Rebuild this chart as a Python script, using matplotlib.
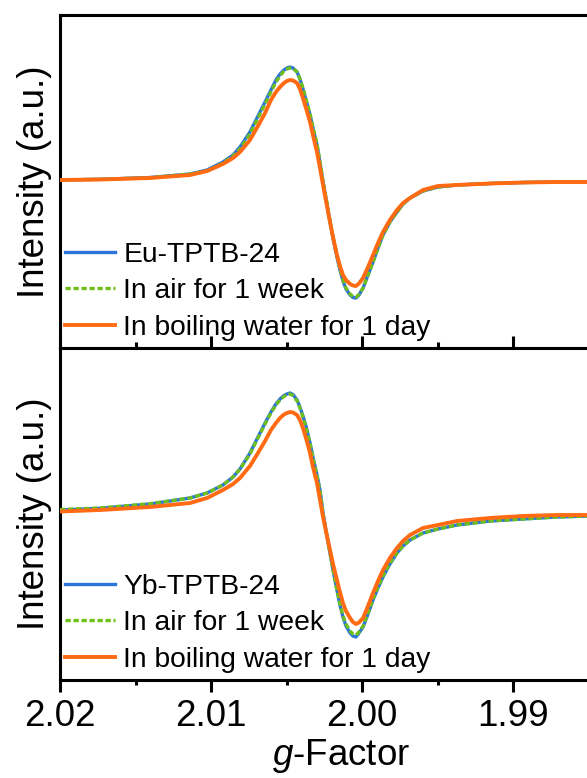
import matplotlib
matplotlib.use("Agg")
import matplotlib.pyplot as plt
from matplotlib.ticker import MultipleLocator

plt.rcParams["font.family"] = ["Liberation Sans", "DejaVu Sans"]
plt.rcParams["mathtext.fontset"] = "custom"
plt.rcParams["mathtext.rm"] = "Liberation Sans"
plt.rcParams["mathtext.it"] = "Liberation Sans:italic"

# g-factor sampling shared by both spectra
g_factor = [2.02000, 2.01735, 2.01404, 2.01139, 2.01026, 2.00921, 2.00854, 2.00808, 2.00742, 2.00689,
            2.00642, 2.00603, 2.00570, 2.00543, 2.00517, 2.00497, 2.00477, 2.00457, 2.00430, 2.00411,
            2.00391, 2.00371, 2.00344, 2.00325, 2.00298, 2.00278, 2.00258, 2.00232, 2.00212, 2.00192,
            2.00166, 2.00146, 2.00126, 2.00106, 2.00079, 2.00060, 2.00040, 2.00020, 1.99993, 1.99960,
            1.99927, 1.99894, 1.99861, 1.99815, 1.99768, 1.99728, 1.99682, 1.99596, 1.99497, 1.99371,
            1.99152, 1.98934, 1.98709, 1.98490]

# ---- Eu-TPTB-24 (top panel) ----
eu_fresh = [0, 0.7, 2.5, 6, 10, 18, 25, 33, 48, 64,
            78, 90, 100, 106, 110, 112, 113, 112, 108, 101,
            91, 80, 65, 52, 35, 17, -2, -24, -42, -58,
            -77, -90, -101, -109, -115, -117.5, -118, -115, -108, -95,
            -82, -68, -55, -42, -32, -24, -18, -11, -7, -5,
            -3.5, -2.5, -2, -2]
eu_air = [0, 0.7, 2.3, 6, 9, 17, 24, 31, 46, 62,
          76, 88, 98, 104, 109, 111, 112, 111.5, 108, 101,
          92, 81, 66, 53, 36, 18, -1, -23, -41, -57,
          -76, -89, -100, -108, -114, -116.5, -117, -114.5, -108, -95,
          -82, -68, -55, -42, -32, -24, -18, -11, -7, -5,
          -3.5, -2.5, -2, -2]
eu_water = [0, 0.5, 2, 5, 9, 16, 22, 28, 40, 54,
            67, 80, 88, 93, 97, 99, 100, 99.5, 97, 91,
            82, 72, 58, 45, 28, 12, -5, -26, -42, -57,
            -75, -86, -95, -100, -104, -105.5, -106, -103.5, -98, -87,
            -75, -63, -52, -40, -30, -23, -18, -10, -6, -5,
            -3.5, -2.5, -2, -2]

# ---- Yb-TPTB-24 (bottom panel) ----
yb_fresh = [0, 1.7, 6, 12, 17, 25, 33, 41, 57, 73,
            87, 98, 106, 111, 114.5, 116, 117, 115.5, 110, 103,
            94, 84, 67, 53, 35, 20, -3, -26, -43, -60,
            -80, -95, -107, -116, -123, -126, -127, -123, -117, -104,
            -90, -78, -67, -54, -43, -36, -30, -23, -19, -15,
            -11, -9, -7, -6]
yb_air = [0.5, 2, 6.3, 12, 17, 25, 33, 41, 56, 72,
          86, 97, 105, 110, 113.5, 115, 116, 114.5, 109, 102,
          93, 83, 66, 52, 34, 19, -4, -26, -43, -60,
          -80, -94, -106, -114, -121, -124, -125, -122, -116, -103,
          -89, -77, -66, -53, -43, -36, -30, -23, -19, -15,
          -11, -9, -7, -6]
yb_water = [-1.5, 0, 3, 7, 12, 20, 26, 32, 44, 57,
            69, 80, 87, 92, 95.5, 97, 98, 97.5, 95, 90,
            82, 72, 57, 43, 27, 10, -7, -26, -40, -54,
            -70, -82, -93, -101, -108, -112, -114, -112.5, -108, -96,
            -83, -71, -60, -48, -38, -31, -25, -18, -15, -11,
            -8, -6, -5, -5]

labels_eu = ["Eu-TPTB-24", "In air for 1 week", "In boiling water for 1 day"]
labels_yb = ["Yb-TPTB-24", "In air for 1 week", "In boiling water for 1 day"]
tick_values = [2.02, 2.01, 2.00, 1.99]
tick_labels = ["2.02", "2.01", "2.00", "1.99"]

BLUE = "#2a74dc"
GREEN = "#6fbf1c"
ORANGE = "#ff6a12"

W, H = 587, 778
fig = plt.figure(figsize=(W / 100, H / 100), dpi=100)

left = 60 / W
width = 604 / W
ax_top = fig.add_axes([left, 1 - 348 / H, width, 333 / H])
ax_bot = fig.add_axes([left, 1 - 680 / H, width, 332 / H])

panels = [
    (ax_top, eu_fresh, eu_air, eu_water, labels_eu, (-168, 165)),
    (ax_bot, yb_fresh, yb_air, yb_water, labels_yb, (-170, 162)),
]

for ax, fresh, air, water, labels, ylim in panels:
    ax.plot(g_factor, fresh, color=BLUE, lw=2.4, solid_joinstyle="round",
            label=labels[0], zorder=2)
    ax.plot(g_factor, air, color=GREEN, lw=2.4, ls=(0, (1.6, 0.8)),
            label=labels[1], zorder=3)
    ax.plot(g_factor, water, color=ORANGE, lw=2.8, solid_joinstyle="round",
            label=labels[2], zorder=4)
    ax.set_xlim(2.02, 1.98)
    ax.set_ylim(*ylim)
    ax.set_yticks([])
    ax.xaxis.set_major_locator(MultipleLocator(0.01))
    ax.xaxis.set_minor_locator(MultipleLocator(0.005))
    for sp in ax.spines.values():
        sp.set_linewidth(2.2)
    ax.set_ylabel("Intensity (a.u.)", fontsize=26.5)
    ax.yaxis.set_label_coords(-0.013, 0.5)
    ax.legend(loc="lower left", bbox_to_anchor=(0.008, 0.022), frameon=False,
              fontsize=20.3, handlelength=1.78, handletextpad=0.3,
              labelspacing=0.37, borderpad=0, borderaxespad=0)

ax_top.tick_params(axis="x", which="major", direction="in", length=9, width=2.2,
                   labelbottom=False)
ax_top.tick_params(axis="x", which="minor", direction="in", length=4.5, width=2.2)

ax_bot.set_xticks(tick_values)
ax_bot.set_xticklabels(tick_labels)
ax_bot.tick_params(axis="x", which="major", direction="out", length=8.5, width=2.2,
                   labelsize=26.5, pad=5)
ax_bot.tick_params(axis="x", which="minor", direction="out", length=3.5, width=2.2)
ax_bot.set_xlabel(r"$g$-Factor", fontsize=26.5)
ax_bot.xaxis.set_label_coords(0.465, -0.172)

fig.savefig("out.png", dpi=100)
